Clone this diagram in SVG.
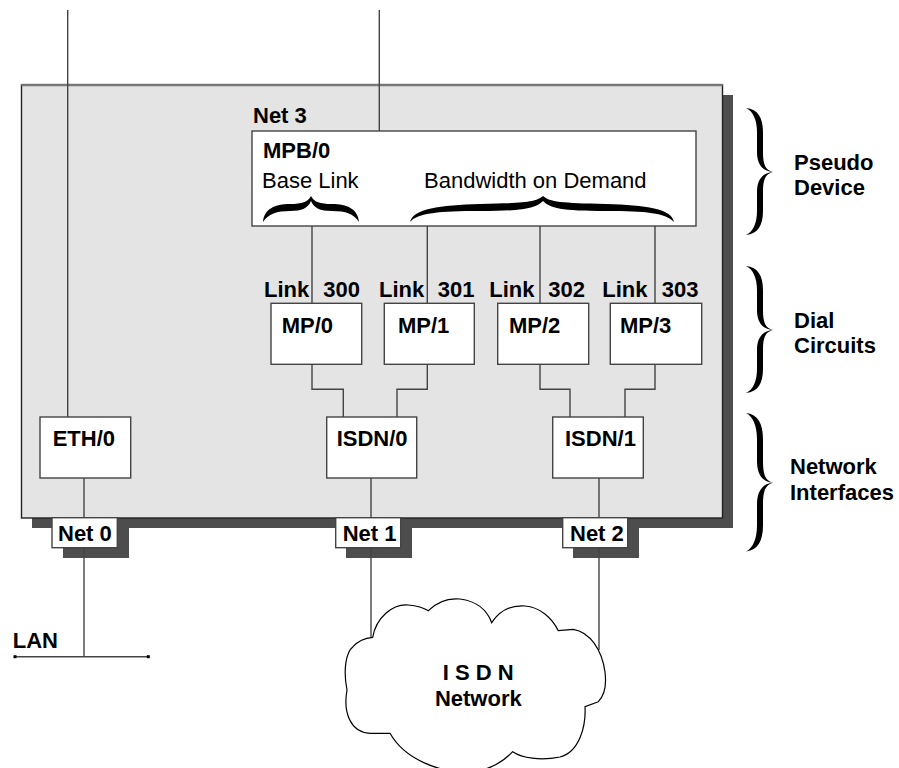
<svg xmlns="http://www.w3.org/2000/svg" width="899" height="768" viewBox="0 0 899 768">
  <style>
    text { font-family: "Liberation Sans", Arial, sans-serif; font-size: 22px; fill: #000; }
    .b { font-weight: bold; }
    .box { fill: #fff; stroke: #444; stroke-width: 1.4; }
    .shadow { fill: #4d4d4d; }
    .wire { fill: none; stroke: #444; stroke-width: 1.4; }
    .brace { fill: #000; }
  </style>
  <defs>
    <!-- vertical curly brace, opening left, tip at (27,64) -->
    <path id="vbrace" d="M0,0 C12,1 17,10 17,24 L17,44 C17,56 19,62 27,64 C16,63 11,56 11,44 L11,24 C11,12 7,3 0,0 Z M27,64 C19,66 17,72 17,84 L17,103 C17,117 12,126 0,127 C7,124 11,115 11,103 L11,84 C11,72 16,65 27,64 Z"/>
  </defs>

  <rect width="899" height="768" fill="#fff"/>

  <!-- router chassis with drop shadow -->
  <g id="chassis">
    <rect class="shadow" x="32" y="95" width="701" height="433"/>
    <rect x="21.5" y="85" width="701" height="433" fill="#e4e4e4" stroke="#222" stroke-width="1.4"/>
    <line x1="21.5" y1="85" x2="722.5" y2="85" stroke="#777" stroke-width="2.5"/>
  </g>

  <!-- port shadows -->
  <rect class="shadow" x="63" y="528" width="66" height="30"/>
  <rect class="shadow" x="346" y="528" width="66" height="30"/>
  <rect class="shadow" x="573" y="528" width="66" height="30"/>

  <g id="connectors">
    <line class="wire" x1="67.7" y1="10" x2="67.7" y2="417"/>
    <line class="wire" x1="379.3" y1="10" x2="379.3" y2="131"/>
    <line class="wire" x1="312" y1="226" x2="312" y2="303"/>
    <line class="wire" x1="427.3" y1="226" x2="427.3" y2="303"/>
    <line class="wire" x1="540" y1="226" x2="540" y2="303"/>
    <line class="wire" x1="655" y1="226" x2="655" y2="303"/>
    <polyline class="wire" points="312,364 312,389.3 343.3,389.3 343.3,417"/>
    <polyline class="wire" points="427.3,364 427.3,389.3 397,389.3 397,417"/>
    <polyline class="wire" points="540,364 540,389.3 570,389.3 570,417"/>
    <polyline class="wire" points="655,364 655,389.3 625,389.3 625,417"/>
    <line class="wire" x1="84" y1="478" x2="84" y2="656.7"/>
    <line class="wire" x1="371" y1="478" x2="371" y2="640"/>
    <line class="wire" x1="599" y1="478" x2="599" y2="650"/>
    <line class="wire" x1="15" y1="656.7" x2="148.3" y2="656.7"/>
    <rect x="13.5" y="655.2" width="3" height="3" fill="#000"/>
    <rect x="146.8" y="655.2" width="3" height="3" fill="#000"/>
  </g>

  <g id="mpb0">
    <rect class="box" x="252" y="131" width="444" height="95"/>
    <text class="b" x="253" y="123">Net 3</text>
    <text class="b" x="263" y="158">MPB/0</text>
    <text x="262" y="188">Base Link</text>
    <text x="424" y="188">Bandwidth on Demand</text>
    <path class="brace" d="M263,222 C264,209 275,204 290,204 C302,204 308,202 311,196 C314,202 320,204 332,204 C347,204 358,209 359,222 C354,214 346,211 332,211 C320,211 314,208 311,201 C308,208 302,211 290,211 C277,211 268,214 263,222 Z"/>
    <path class="brace" d="M410,222 C413,209 440,205 480,204 C525,203 536,202 543,196 C550,202 561,203 606,204 C646,205 672,209 674,222 C666,213 646,211 606,211 C561,211 550,208 543,201 C536,208 525,211 480,211 C440,211 417,213 410,222 Z"/>
  </g>

  <g id="mp0">
    <rect class="box" x="271" y="303.3" width="90.7" height="61"/>
    <text class="b" x="264" y="297">Link</text>
    <text class="b" x="323.3" y="297">300</text>
    <text class="b" x="281.7" y="332.7">MP/0</text>
  </g>
  <g id="mp1">
    <rect class="box" x="384.3" y="303.3" width="90" height="61"/>
    <text class="b" x="379" y="297">Link</text>
    <text class="b" x="437.7" y="297">301</text>
    <text class="b" x="398" y="332.7">MP/1</text>
  </g>
  <g id="mp2">
    <rect class="box" x="497.7" y="303.3" width="91" height="61"/>
    <text class="b" x="489.3" y="297">Link</text>
    <text class="b" x="548.3" y="297">302</text>
    <text class="b" x="509" y="332.7">MP/2</text>
  </g>
  <g id="mp3">
    <rect class="box" x="610.3" y="303.3" width="91.4" height="61"/>
    <text class="b" x="602.3" y="297">Link</text>
    <text class="b" x="661.7" y="297">303</text>
    <text class="b" x="620" y="332.7">MP/3</text>
  </g>

  <g id="eth0">
    <rect class="box" x="40" y="417" width="90.7" height="61"/>
    <text class="b" x="52.7" y="445.7">ETH/0</text>
  </g>
  <g id="isdn0">
    <rect class="box" x="326.7" y="417" width="90" height="61"/>
    <text class="b" x="336.7" y="445.7">ISDN/0</text>
  </g>
  <g id="isdn1">
    <rect class="box" x="552.7" y="417" width="90.6" height="61"/>
    <text class="b" x="565" y="445.7">ISDN/1</text>
  </g>

  <g id="net0">
    <rect class="box" x="52" y="517.7" width="65.3" height="30"/>
    <text class="b" x="58" y="541">Net 0</text>
  </g>
  <g id="net1">
    <rect class="box" x="335.7" y="517.7" width="65" height="30"/>
    <text class="b" x="342.7" y="541">Net 1</text>
  </g>
  <g id="net2">
    <rect class="box" x="562.7" y="517.7" width="65" height="30"/>
    <text class="b" x="570" y="541">Net 2</text>
  </g>

  <g id="lan">
    <text class="b" x="12.7" y="648.3">LAN</text>
  </g>

  <g id="isdn-network">
    <path d="M372.7,637.3 C376,618 392,604 408,605 C418,606 424,608 428.3,610.7 C438,601 450,598 460,599 C476,601 487,610 491.7,622.7 C500,610 512,605 525,606 C540,607 552,618 558.3,630.7 L573.3,629.3 C590,632 602,650 605,672 C607,688 604,696 598.3,701.7 L585,706.7 C586,725 580,752 560,757 C540,761 522,758 512.7,751.7 C500,765 485,772 465,772 C440,772 405,760 390,733.3 L370,733.3 C350,732 343,712 347,690 C343,670 346,652 353,646.7 C358,641 365,638 372.7,637.3 Z" fill="#fff" stroke="#000" stroke-width="1.2"/>
    <text class="b" x="478.3" y="680" text-anchor="middle">I S D N</text>
    <text class="b" x="478.3" y="706" text-anchor="middle">Network</text>
  </g>

  <!-- layer annotations -->
  <g id="pseudo-device">
    <use href="#vbrace" transform="translate(746,108)" class="brace"/>
    <text class="b" x="794" y="170">Pseudo</text>
    <text class="b" x="794" y="195">Device</text>
  </g>
  <g id="dial-circuits">
    <use href="#vbrace" transform="translate(746,266)" class="brace"/>
    <text class="b" x="794" y="328.3">Dial</text>
    <text class="b" x="794" y="353.3">Circuits</text>
  </g>
  <g id="network-interfaces">
    <use href="#vbrace" transform="translate(746,413) scale(1,1.09)" class="brace"/>
    <text class="b" x="790" y="474">Network</text>
    <text class="b" x="790" y="500">Interfaces</text>
  </g>
</svg>
